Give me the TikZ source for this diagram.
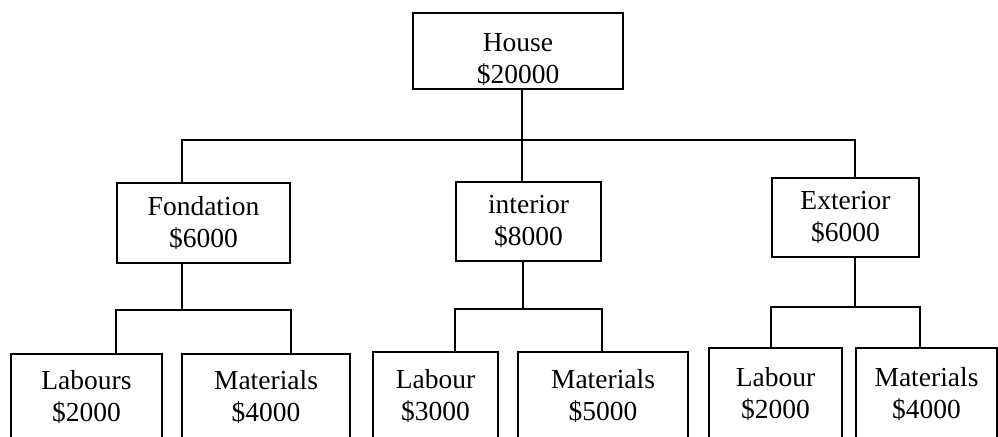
\documentclass[tikz,border=0pt]{standalone}
\usepackage{fontspec}
\setmainfont{Liberation Serif}
\usetikzlibrary{positioning, calc}

\begin{document}
\begin{tikzpicture}[x=0.4pt, y=-0.4pt,
			box/.style={draw, line width=0.8pt, align=center, inner sep=0pt,
				font=\fontsize{11}{12.5}\selectfont},
			link/.style={line width=0.7pt} ]
			\path[use as bounding box, clip] (0,0) rectangle (998,437);
			
			%Nos: nivel 0 e 1
			\node[box, minimum width=84pt,   minimum height=30.4pt] (house) at (518,51)      {\rule{0pt}{14pt}House\\\$20000};
			\node[box, minimum width=69.2pt, minimum height=32pt]   (fond)  at (203.5,223)   {Fondation\\\$6000};
			\node[box, minimum width=58pt,   minimum height=31.6pt] (inter) at (528.5,221.5) {interior\\\$8000};
			\node[box, minimum width=58.8pt, minimum height=31.6pt] (ext)   at (845.5,217.5) {Exterior\\\$6000};
			
			%Nos: nivel 2 (cortados embaixo)
			\node[box, minimum width=60.4pt, minimum height=34.4pt] (lab1) at (86.5,397)  {Labours\\\$2000};
			\node[box, minimum width=67.2pt, minimum height=34.4pt] (mat1) at (266,397)   {Materials\\\$4000};
			\node[box, minimum width=50pt,   minimum height=35.2pt] (lab2) at (435.5,396) {Labour\\\$3000};
			\node[box, minimum width=68pt,   minimum height=35.2pt] (mat2) at (603,396)   {Materials\\\$5000};
			\node[box, minimum width=53.2pt, minimum height=36.8pt] (lab3) at (775.5,394) {Labour\\\$2000};
			\node[box, minimum width=56.4pt, minimum height=36.8pt] (mat3) at (926.5,394) {Materials\\\$4000};
			
			%Juncoes
			\coordinate (j0) at (522,140);
			\coordinate (jl) at (182,140);
			\coordinate (jr) at (855,140);
			\coordinate (jf) at (182,310);
			\coordinate (ji) at (523,309);
			\coordinate (je) at (855,307);
			
			%Ligacoes
			\draw[link] (house.south -| j0) -- (j0) -- (inter.north -| j0);
			\draw[link] (fond.north -| jl) -- (jl) -- (jr) -- (ext.north -| jr);
			\draw[link] (fond.south -| jf) -- (jf);
			\draw[link] (lab1.north -| fond.west) |- (jf) -| (mat1.north -| fond.east);
			\draw[link] (inter.south -| ji) -- (ji);
			\draw[link] (lab2.north -| inter.west) |- (ji) -| (mat2.north -| inter.east);
			\draw[link] (ext.south -| je) -- (je);
			\draw[link] (lab3.north -| ext.west) |- (je) -| (mat3.north -| ext.east);
		\end{tikzpicture}
\end{document}
